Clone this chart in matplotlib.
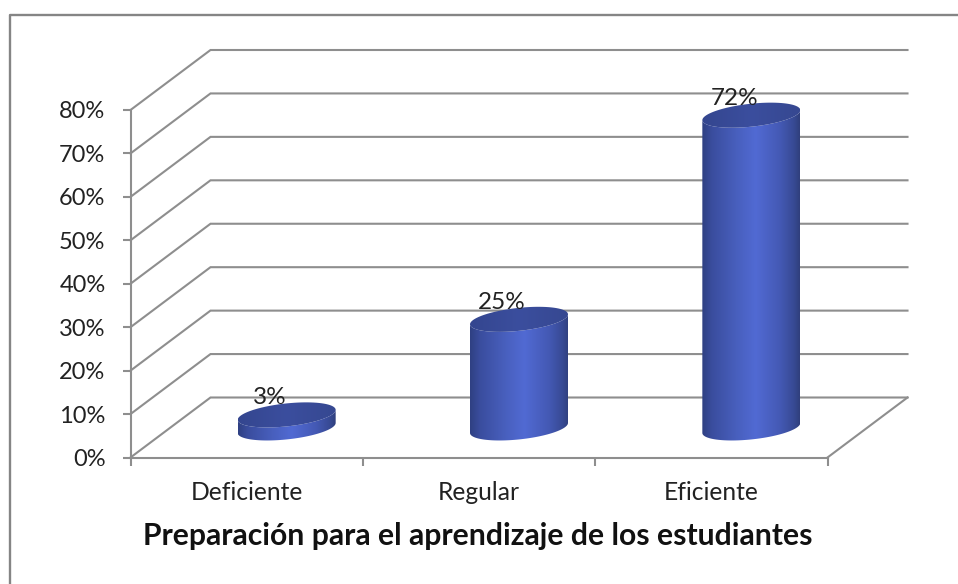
import numpy as np
import matplotlib
matplotlib.use("Agg")
import matplotlib.pyplot as plt
from matplotlib.patches import Polygon
from matplotlib.colors import LinearSegmentedColormap

categories = ["Deficiente", "Regular", "Eficiente"]
values = [3, 25, 72]
data_labels = ["3%", "25%", "72%"]
y_ticks = [0, 10, 20, 30, 40, 50, 60, 70, 80]
y_tick_labels = ["0%", "10%", "20%", "30%", "40%", "50%", "60%", "70%", "80%"]
title = "Preparación para el aprendizaje de los estudiantes"

W, H = 958, 584
GRAY = "#8e8e8e"
plt.rcParams["font.family"] = ["Lato", "DejaVu Sans"]

fig = plt.figure(figsize=(W / 100, H / 100), dpi=100)
L, R, T, B = 130.5, 827.5, 110, 457.5
ax = fig.add_axes([L / W, 1 - B / H, (R - L) / W, (B - T) / H])
ax.patch.set_alpha(0)
ax.set_xlim(0, 3)
ax.set_ylim(0, 80)

px_x = (R - L) / 3
px_y = (B - T) / 80
depth_x = 80 / px_x
depth_y = 60 / px_y

# outer frame: left and top edges are the only parts inside the picture
fig.add_artist(plt.Line2D([9.5 / W, 9.5 / W, 1], [0, 1 - 14.5 / H, 1 - 14.5 / H],
                          color="#858585", lw=1.7, transform=fig.transFigure))

# walls and floor
for t in y_ticks:
    ax.plot([0, depth_x, 3 + depth_x], [t, t + depth_y, t + depth_y],
            color=GRAY, lw=1.5, clip_on=False, zorder=1, solid_joinstyle="miter")
ax.plot([3, 3 + depth_x], [0, depth_y], color=GRAY, lw=1.5, clip_on=False, zorder=1)

body_cmap = LinearSegmentedColormap.from_list(
    "body", [(0, "#2f4082"), (0.1, "#3a4d9e"), (0.35, "#485fbd"),
             (0.55, "#516ad3"), (0.8, "#4459b4"), (0.94, "#374a94"), (1, "#303f7c")])
top_cmap = LinearSegmentedColormap.from_list("top", ["#34468f", "#3b4e9e", "#364891"])
grad = np.linspace(0, 1, 256).reshape(1, -1)

half_w = 49 / px_x
tilt = 5 / px_y
half_h = 11.5 / px_y


def ellipse(cx, cy, a, b):
    t = np.linspace(a, b, 90)
    return np.c_[cx + half_w * np.cos(t), cy + tilt * np.cos(t) - half_h * np.sin(t)]


def gradient_fill(points, cmap, extent, z):
    patch = Polygon(points, closed=True, fc="none", ec="none", zorder=z, clip_on=False)
    ax.add_patch(patch)
    im = ax.imshow(grad, cmap=cmap, aspect="auto", zorder=z, interpolation="bilinear", extent=extent)
    im.set_clip_box(fig.bbox)
    im.set_clip_path(patch)


for i, v in enumerate(values):
    cx = i + 0.5 + depth_x / 2
    base = depth_y / 2 - 0.1
    top = base + v
    body_pts = np.r_[ellipse(cx, base, np.pi, 0), ellipse(cx, top, 0, np.pi)]
    gradient_fill(body_pts, body_cmap, [cx - half_w, cx + half_w, base - 15, top + 15], 3)
    gradient_fill(ellipse(cx, top, 0, 2 * np.pi), top_cmap, [cx - half_w, cx + half_w, top - 5, top + 5], 4)
    ax.annotate(data_labels[i], (cx, top), xytext=(-17 * 0.72, 17 * 0.72),
                textcoords="offset points", ha="center", va="center",
                fontsize=17.5, color="#222222", zorder=6, annotation_clip=False)

ax.set_xlim(0, 3)
ax.set_ylim(0, 80)

for s in ("top", "right"):
    ax.spines[s].set_visible(False)
for s in ("left", "bottom"):
    ax.spines[s].set_color(GRAY)
    ax.spines[s].set_linewidth(1.5)
    ax.spines[s].set_zorder(2)

ax.set_yticks(y_ticks)
ax.set_yticklabels(y_tick_labels, fontsize=17, color="#222222")
ax.set_xticks([0, 1, 2, 3])
ax.set_xticks([0.5, 1.5, 2.5], minor=True)
ax.set_xticklabels([])
ax.set_xticklabels(categories, minor=True, fontsize=17.7, color="#222222")
ax.tick_params(axis="y", length=6, width=1.5, color=GRAY, pad=12)
ax.tick_params(axis="x", which="major", length=6, width=1.5, color=GRAY)
ax.tick_params(axis="x", which="minor", length=0, pad=17)

fig.text(478 / W, 1 - 536 / H, title, ha="center", va="center",
         fontsize=21.7, fontweight="bold", color="#111111")

fig.savefig("out.png", dpi=100)
